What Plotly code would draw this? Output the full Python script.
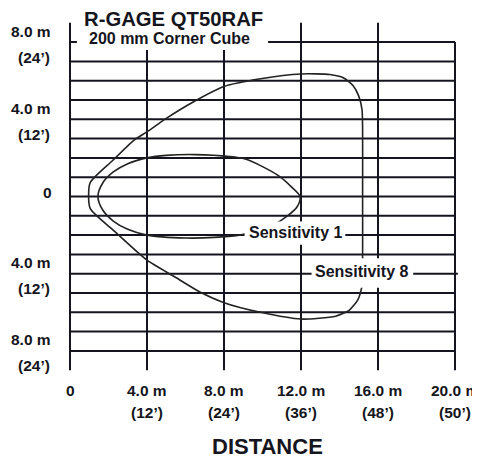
import plotly.graph_objects as go

# ---- data ----
grid_y = [-8, -7, -6, -5, -4, -3, -2, -1, 0, 1, 2, 3, 4, 5, 6, 7, 8]
grid_x = [0, 4, 8, 12, 16, 20]

x_tick_vals = [0, 4, 8, 12, 16, 20]
x_tick_m = ["0", "4.0 m", "8.0 m", "12.0 m", "16.0 m", "20.0 m"]
x_tick_ft = ["", "(12’)", "(24’)", "(36’)", "(48’)", "(50’)"]

y_tick_vals = [8, 4, 0, -4, -8]
y_tick_m = ["8.0 m", "4.0 m", "0", "4.0 m", "8.0 m"]
y_tick_ft = ["(24’)", "(12’)", "", "(12’)", "(24’)"]

# Sensitivity 8 (outer) beam pattern, metres
sens8_x = [1.04, 2.2, 3.3, 4.0, 5.0, 6.4, 8.0, 9.9, 12.0, 13.5, 14.2, 14.7, 15.0, 15.17, 15.2, 15.2,
           15.2, 15.17, 14.95, 14.5, 13.8, 12.0, 9.9, 8.0, 6.75, 5.5, 4.0, 2.2, 1.04, 1.04]
sens8_y = [0.7, 1.85, 2.9, 3.35, 4.05, 4.9, 5.7, 6.1, 6.35, 6.32, 6.15, 5.75, 5.2, 4.5, 3.5, 0.0,
           -3.5, -4.6, -5.35, -5.9, -6.2, -6.35, -6.0, -5.5, -4.95, -4.2, -3.3, -1.7, -0.6, 0.7]

# Sensitivity 1 (inner) beam pattern, metres
sens1_x = [1.45, 1.7, 2.25, 3.0, 4.0, 5.0, 6.5, 8.3, 9.1, 10.0, 10.9, 11.5, 11.95, 11.8, 11.3,
           10.5, 9.5, 8.8, 7.5, 6.0, 4.0, 3.0, 2.25, 1.7, 1.45]
sens1_y = [0.0, 0.7, 1.27, 1.7, 2.0, 2.13, 2.17, 2.07, 1.94, 1.55, 1.03, 0.5, 0.0, -0.53, -1.0,
           -1.5, -1.85, -2.0, -2.12, -2.15, -2.0, -1.7, -1.27, -0.7, 0.0]

title_text = "R-GAGE QT50RAF"
subtitle_text = "200 mm Corner Cube"
label1_text = "Sensitivity 1"
label8_text = "Sensitivity 8"
axis_title = "DISTANCE"

# ---- figure ----
FONT = "Liberation Sans, Arial, sans-serif"
INK = "#151520"
PXX = 19.25  # px per metre horizontally
PXY = 19.3   # px per metre vertically
W, H = 472, 451          # page body has an 8px margin
X0PX, Y0PX = 62, 188.5   # pixel position of (0, 0) inside the figure

fig = go.Figure()

fig.add_trace(go.Scatter(x=sens8_x, y=sens8_y, mode="lines",
                         line=dict(color="#222", width=1.6, shape="spline", smoothing=0.6),
                         hoverinfo="skip", showlegend=False))
fig.add_trace(go.Scatter(x=sens1_x, y=sens1_y, mode="lines",
                         line=dict(color="#222", width=1.6, shape="spline", smoothing=0.8),
                         hoverinfo="skip", showlegend=False))

shapes = []
for gy in grid_y:
    shapes.append(dict(type="line", xref="x", yref="y", x0=0, x1=20, y0=gy, y1=gy,
                       line=dict(color=INK, width=2), layer="below"))
for gx in grid_x:
    top = 9 if gx < 20 else 8
    shapes.append(dict(type="line", xref="x", yref="y", x0=gx, x1=gx, y0=-9, y1=top,
                       line=dict(color=INK, width=2), layer="below"))
# leader for Sensitivity 8 continues slightly past the frame
shapes.append(dict(type="line", xref="x", yref="y", x0=20, x1=20.15, y0=-4, y1=-4,
                   line=dict(color=INK, width=2), layer="below"))
# white boxes behind title and labels
shapes.append(dict(type="rect", xref="x", yref="y", x0=0.36, x1=10.29, y0=7.59, y1=10.5,
                   fillcolor="white", line=dict(width=0), layer="above"))
shapes.append(dict(type="rect", xref="x", yref="y", x0=9.07, x1=14.3, y0=-1.3, y1=-2.5,
                   fillcolor="white", line=dict(width=0), layer="above"))
shapes.append(dict(type="rect", xref="x", yref="y", x0=12.55, x1=17.83, y0=-3.2, y1=-4.73,
                   fillcolor="white", line=dict(width=0), layer="above"))

ann = []
def txt(x, y, s, size, xanchor="center", yshift=0, xshift=0):
    ann.append(dict(x=x, y=y, xref="x", yref="y", text=s, showarrow=False,
                    xanchor=xanchor, yanchor="middle", yshift=yshift, xshift=xshift,
                    font=dict(family=FONT, size=size, color=INK, weight="bold")))

TICK = 15.5
for v, m, ft in zip(y_tick_vals, y_tick_m, y_tick_ft):
    if ft:
        txt(-0.88, v, m, TICK, xanchor="right", yshift=11)
        txt(-0.93, v, ft, TICK, xanchor="right", yshift=-15)
    else:
        txt(-1.19, v, m, TICK, yshift=4)

for v, m, ft in zip(x_tick_vals, x_tick_m, x_tick_ft):
    txt(v, -9, m, TICK, yshift=-20)
    if ft:
        txt(v, -9, ft, TICK, yshift=-42)

txt(5.38, 9.22, title_text, 20.3)
txt(5.18, 8.17, subtitle_text, 16)
txt(11.7, -1.84, label1_text, 16)
txt(15.15, -3.9, label8_text, 16)
txt(10.28, -12.95, axis_title, 22)

fig.update_layout(
    width=W, height=H,
    margin=dict(l=0, r=0, t=0, b=0),
    paper_bgcolor="white", plot_bgcolor="white",
    xaxis=dict(range=[-X0PX / PXX, (W - X0PX) / PXX], visible=False, fixedrange=True),
    yaxis=dict(range=[-(H - Y0PX) / PXY, Y0PX / PXY], visible=False, fixedrange=True),
    shapes=shapes, annotations=ann, showlegend=False,
)

fig.write_html("out.html")
